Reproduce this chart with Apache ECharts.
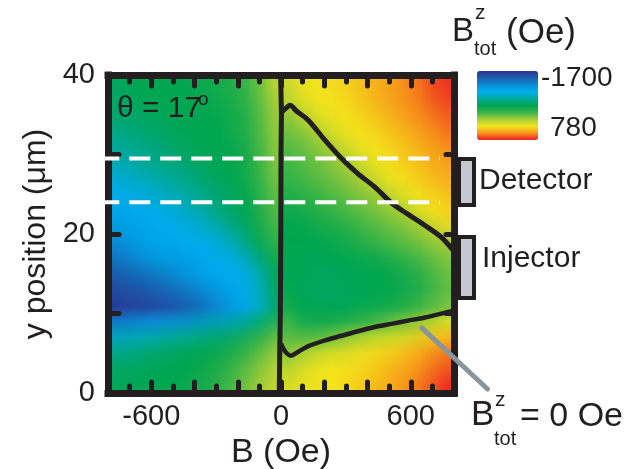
<!DOCTYPE html>
<html>
<head>
<meta charset="utf-8">
<script src="https://cdn.jsdelivr.net/npm/echarts@6/dist/echarts.min.js"></script>
<style>
html,body{margin:0;padding:0;background:#fff;}
#wrap{position:relative;width:644px;height:469px;overflow:hidden;}
#chart{position:absolute;left:0;top:0;width:644px;height:469px;z-index:2;}
#heatClip{position:absolute;left:108px;top:75px;width:346px;height:318px;overflow:hidden;z-index:1;}
.heat{position:absolute;top:0;width:12px;height:20px;transform-origin:0 0;
      transform:scale(14.4167,15.9);image-rendering:auto;}
#heatL{left:0;}
#heatR{left:173px;}
</style>
</head>
<body>
<div id="wrap">
  <div id="heatClip">
    <div id="heatL" class="heat"></div>
    <div id="heatR" class="heat"></div>
  </div>
  <div id="chart"></div>
</div>
<script>
// ---- categories (cell centres) ----
const colB = [-767,-700,-633,-567,-500,-433,-367,-300,-233,-167,-100,-33,33,100,167,233,300,367,433,500,567,633,700,767];
const rowY = [1,3,5,7,9,11,13,15,17,19,21,23,25,27,29,31,33,35,37,39];

// ---- B_tot^z (Oe), one array per row (y in µm) ----
const bzY01 = [-490,-490,-460,-460,-440,-410,-360,-290,-190,-90,10,140, 190,230,280,280,310,360,410,460,510,580,660,760];
const bzY03 = [-510,-490,-490,-460,-460,-440,-390,-310,-210,-110,-10,110, 140,210,260,280,310,330,380,430,480,530,610,680];
const bzY05 = [-580,-560,-530,-510,-490,-460,-440,-390,-310,-210,-110,40, 10,140,230,280,280,310,330,380,430,480,560,630];
const bzY07 = [-760,-730,-680,-630,-580,-530,-510,-460,-410,-310,-210,-60, -110,-90,-60,-10,90,190,260,280,310,360,410,480];
const bzY09 = [-1150,-1060,-980,-960,-930,-880,-830,-780,-710,-610,-460,-260, -160,-310,-340,-290,-240,-190,-140,-60,10,90,190,280];
const bzY11 = [-1650,-1620,-1590,-1560,-1520,-1460,-1380,-1260,-1120,-1010,-900,-560, -310,-440,-460,-460,-440,-410,-360,-310,-260,-190,-110,-40];
const bzY13 = [-1580,-1560,-1520,-1480,-1430,-1370,-1290,-1180,-1080,-990,-880,-530, -410,-490,-510,-510,-510,-490,-460,-440,-390,-310,-210,-110];
const bzY15 = [-1500,-1470,-1430,-1350,-1280,-1180,-1080,-1010,-960,-950,-880,-510, -460,-490,-510,-510,-490,-490,-460,-440,-390,-310,-210,-110];
const bzY17 = [-1380,-1300,-1230,-1150,-1100,-1060,-1010,-980,-960,-880,-710,-410, -460,-490,-490,-490,-460,-460,-440,-390,-310,-240,-160,-60];
const bzY19 = [-1230,-1150,-1080,-1030,-1010,-980,-960,-930,-860,-730,-530,-290, -460,-460,-460,-440,-410,-340,-260,-210,-160,-110,-60,10];
const bzY21 = [-1130,-1060,-1010,-980,-960,-930,-910,-830,-710,-580,-410,-210, -460,-440,-410,-360,-310,-240,-190,-140,-90,-40,40,190];
const bzY23 = [-1030,-1010,-980,-960,-930,-860,-780,-680,-580,-490,-360,-160, -410,-390,-340,-260,-210,-160,-90,-40,10,140,260,330];
const bzY25 = [-960,-960,-930,-880,-830,-760,-680,-610,-530,-460,-340,-140, -340,-290,-240,-190,-140,-60,-40,60,160,260,310,380];
const bzY27 = [-910,-880,-830,-780,-730,-680,-610,-530,-490,-410,-290,-90, -260,-210,-160,-110,-60,10,110,210,280,330,380,430];
const bzY29 = [-810,-780,-730,-680,-630,-580,-530,-490,-460,-390,-260,-60, -210,-160,-110,-60,10,110,210,280,330,380,430,480];
const bzY31 = [-730,-710,-660,-610,-560,-530,-490,-460,-440,-360,-240,-40, -160,-140,-60,10,110,210,280,310,360,410,460,530];
const bzY33 = [-660,-630,-580,-560,-510,-490,-460,-460,-410,-340,-210,-10, -110,-60,10,140,230,280,310,360,410,460,510,580];
const bzY35 = [-580,-560,-530,-510,-490,-460,-460,-440,-390,-310,-190,10, -60,40,160,230,280,310,360,410,460,510,560,630];
const bzY37 = [-530,-510,-490,-460,-460,-460,-440,-410,-360,-290,-160,40, 60,190,260,280,310,360,410,460,510,560,610,680];
const bzY39 = [-510,-490,-460,-460,-460,-440,-410,-390,-340,-260,-140,90, 140,230,280,310,330,380,430,480,530,580,660,730];

// ---- B_tot^z = 0 contour (B in Oe, y in µm) ----
const contourVertical = [[-8,0],[-6,5],[-3,10],[-1,20],[0,30],[2,35],[0,38],[-2,40]];
const contourUpper = [[1,35.3],[26,35.9],[42,36.2],[70,35.5],[126,34.3],[203,31.8],[280,29.5],[355,27.6],[434,25.9],[511,23.9],[586,22.5],[664,21.1],[741,19.6],[800,17.8]];
const contourLower = [[0,6.2],[20,5.2],[45,4.7],[80,5.2],[126,5.9],[200,6.6],[280,7.2],[360,7.8],[434,8.3],[510,8.7],[587,9.1],[665,9.5],[772,10.2],[800,10.4]];

// ---- annotations ----
const detectorEdgesY = [29.5, 24];          // dashed white lines (µm)
const dashedSpanB = [-845, 735];            // B extent of the dashed lines
const pointerLine = [[651,8.2],[955,0.5]];  // grey pointer to the contour
const xTickLabels = [-600, 0, 600];
const yTickLabels = [0, 20, 40];
const colorbarLabels = ['-1700', '780'];
const bzMin = -1700, bzMax = 780;

const rows = [bzY01,bzY03,bzY05,bzY07,bzY09,bzY11,bzY13,bzY15,bzY17,bzY19,bzY21,bzY23,bzY25,bzY27,bzY29,bzY31,bzY33,bzY35,bzY37,bzY39];
const HALF = colB.length / 2;   // B<0 and B>0 halves are drawn separately (field jumps at B = 0)

const JET = ['#2e3192','#1c5fad','#0b8bd3','#00aeef','#00a99d','#00a651','#39b54a','#a3cd3a','#f5e51e','#f7941d','#ed1c24'];
const INK = '#231f20';
const FONT = '"Liberation Sans", Arial, Helvetica, sans-serif';

// heat map of each half: one canvas pixel per cell, smoothly enlarged by the browser
function drawHalf(elId, from) {
  const cols = colB.slice(from, from + HALF);
  const data = [];
  rows.forEach((r, yi) => r.slice(from, from + HALF).forEach((v, xi) => data.push([xi, yi, v])));
  const c = echarts.init(document.getElementById(elId), null, {renderer: 'canvas', devicePixelRatio: 1});
  c.setOption({
    animation: false,
    grid: {left: 0, right: 0, top: 0, bottom: 0, outerBoundsMode: 'none', containLabel: false},
    xAxis: {type: 'category', data: cols, show: false},
    yAxis: {type: 'category', data: rowY, show: false},
    visualMap: {type: 'continuous', min: bzMin, max: bzMax, show: false, inRange: {color: JET}},
    series: [{type: 'heatmap', data: data, itemStyle: {borderWidth: 0}, emphasis: {disabled: true}, progressive: 0}]
  });
  return c;
}
drawHalf('heatL', 0);
drawHalf('heatR', HALF);

const chart = echarts.init(document.getElementById('chart'), null, {renderer: 'canvas'});

const frameLine = {show: true, onZero: false, lineStyle: {color: INK, width: 7, cap: 'square'}};
const tickStyle = {color: INK, width: 5, cap: 'round'};

const staticGraphics = [
  // colour bar title  B^z_tot (Oe)
  {type: 'text', x: 452, y: 32, style: {text: 'B', font: '33px ' + FONT, fill: INK, verticalAlign: 'middle'}},
  {type: 'text', x: 475, y: 13, style: {text: 'z', font: '21px ' + FONT, fill: INK, verticalAlign: 'middle'}},
  {type: 'text', x: 474, y: 49, style: {text: 'tot', font: '20px ' + FONT, fill: INK, verticalAlign: 'middle'}},
  {type: 'text', x: 506, y: 33, style: {text: '(Oe)', font: '35px ' + FONT, fill: INK, verticalAlign: 'middle'}},
  {type: 'text', x: 541, y: 78, style: {text: colorbarLabels[0], font: '28px ' + FONT, fill: INK, verticalAlign: 'middle'}},
  {type: 'text', x: 550, y: 128, style: {text: colorbarLabels[1], font: '28px ' + FONT, fill: INK, verticalAlign: 'middle'}},
  // theta label
  {type: 'text', x: 117, y: 109, z: 20, style: {text: 'θ = 17', font: '30px ' + FONT, fill: INK, verticalAlign: 'middle'}},
  {type: 'text', x: 198, y: 100, z: 20, style: {text: 'o', font: '19px ' + FONT, fill: INK, verticalAlign: 'middle'}},
  // detector / injector contacts
  {type: 'rect', z: 20, shape: {x: 459, y: 159, width: 15, height: 46}, style: {fill: '#c4c8d0', stroke: INK, lineWidth: 4}},
  {type: 'rect', z: 20, shape: {x: 459, y: 237, width: 15, height: 61}, style: {fill: '#c4c8d0', stroke: INK, lineWidth: 4}},
  {type: 'text', x: 479, y: 181, style: {text: 'Detector', font: '30px ' + FONT, fill: INK, verticalAlign: 'middle'}},
  {type: 'text', x: 482, y: 259, style: {text: 'Injector', font: '30px ' + FONT, fill: INK, verticalAlign: 'middle'}},
  // B^z_tot = 0 Oe
  {type: 'text', x: 471, y: 415, style: {text: 'B', font: '35px ' + FONT, fill: INK, verticalAlign: 'middle'}},
  {type: 'text', x: 495, y: 400, style: {text: 'z', font: '21px ' + FONT, fill: INK, verticalAlign: 'middle'}},
  {type: 'text', x: 494, y: 439, style: {text: 'tot', font: '20px ' + FONT, fill: INK, verticalAlign: 'middle'}},
  {type: 'text', x: 520, y: 417, style: {text: '= 0 Oe', font: '34px ' + FONT, fill: INK, verticalAlign: 'middle'}}
];

chart.setOption({
  animation: false,
  backgroundColor: 'transparent',
  grid: {left: 108, top: 75, width: 346, height: 318, outerBoundsMode: 'none', containLabel: false},
  visualMap: {
    type: 'continuous', min: bzMin, max: bzMax, seriesIndex: [],
    orient: 'vertical', inverse: true, left: 477, top: 71,
    itemWidth: 61, itemHeight: 69, padding: 0, text: null,
    calculable: false, hoverLink: false,
    inRange: {color: JET}
  },
  xAxis: [
    {type: 'value', min: -800, max: 800, interval: 200, position: 'bottom', z: 5,
     axisLine: frameLine,
     axisTick: {show: true, inside: true, length: 11, lineStyle: tickStyle},
     minorTick: {show: true, splitNumber: 2, length: 7, lineStyle: tickStyle},
     splitLine: {show: false},
     axisLabel: {margin: 9, fontSize: 29, color: INK, fontFamily: FONT,
       formatter: v => xTickLabels.includes(v) ? String(v) : ''},
     name: 'B (Oe)', nameLocation: 'middle', nameGap: 40,
     nameTextStyle: {fontSize: 34, color: INK, fontFamily: FONT}},
    {type: 'value', min: -800, max: 800, interval: 200, position: 'top', z: 5,
     axisLine: frameLine,
     axisTick: {show: true, inside: true, length: 11, lineStyle: tickStyle},
     minorTick: {show: true, splitNumber: 2, length: 7, lineStyle: tickStyle},
     splitLine: {show: false}, axisLabel: {show: false}}
  ],
  yAxis: [
    {type: 'value', min: 0, max: 40, interval: 10, position: 'left', z: 5,
     axisLine: frameLine,
     axisTick: {show: true, inside: true, length: 11, lineStyle: tickStyle},
     splitLine: {show: false},
     axisLabel: {margin: 13, fontSize: 29, color: INK, fontFamily: FONT,
       formatter: v => yTickLabels.includes(v) ? String(v) : ''},
     name: 'y position (μm)', nameLocation: 'middle', nameGap: 50,
     nameTextStyle: {fontSize: 32, color: INK, fontFamily: FONT}},
    {type: 'value', min: 0, max: 40, interval: 10, position: 'right', z: 5,
     axisLine: frameLine,
     axisTick: {show: true, inside: true, length: 8, lineStyle: tickStyle},
     splitLine: {show: false}, axisLabel: {show: false}}
  ],
  series: [
    {type: 'line', xAxisIndex: 0, yAxisIndex: 0, data: contourVertical, symbol: 'none', z: 4,
     lineStyle: {color: INK, width: 5}},
    {type: 'line', xAxisIndex: 0, yAxisIndex: 0, data: contourUpper, symbol: 'none', smooth: 0.3, z: 4,
     lineStyle: {color: INK, width: 5}},
    {type: 'line', xAxisIndex: 0, yAxisIndex: 0, data: contourLower, symbol: 'none', smooth: 0.3, z: 4,
     lineStyle: {color: INK, width: 4.5}}
  ],
  graphic: staticGraphics
});

// annotation lines placed through the chart's own value scales
const toPx = p => chart.convertToPixel({xAxisIndex: 0, yAxisIndex: 0}, p);
const lineGraphics = detectorEdgesY.map(y => {
  const a = toPx([dashedSpanB[0], y]), b = toPx([dashedSpanB[1], y]);
  return {type: 'line', z: 30, shape: {x1: a[0], y1: a[1], x2: b[0], y2: b[1]},
          style: {stroke: '#ffffff', lineWidth: 4, lineDash: [21, 10]}};
});
const pa = toPx(pointerLine[0]), pb = toPx(pointerLine[1]);
lineGraphics.push({type: 'line', z: 30, shape: {x1: pa[0], y1: pa[1], x2: pb[0], y2: pb[1]},
  style: {stroke: '#8a959b', lineWidth: 5, lineCap: 'round'}});
chart.setOption({graphic: staticGraphics.concat(lineGraphics)}, {replaceMerge: ['graphic']});
</script>
</body>
</html>
